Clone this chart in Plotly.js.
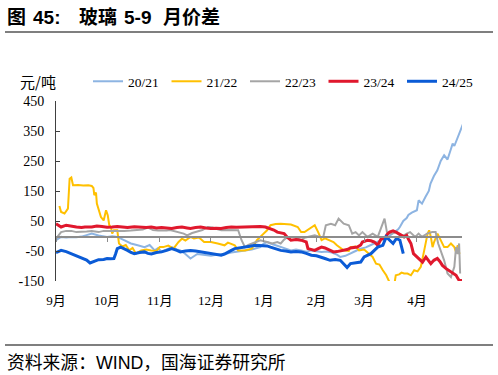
<!DOCTYPE html>
<html>
<head>
<meta charset="utf-8">
<script src="https://cdn.plot.ly/plotly-3.0.1.min.js"></script>
<style>html,body{margin:0;padding:0;background:#fff;}#chart{width:498px;height:375px;}</style>
</head>
<body>
<div id="chart"></div>
<script>
// Days counted from 1 Sep; values in 元/吨
var seriesNames = ['20/21', '21/22', '22/23', '23/24', '24/25'];
var monthTickDays = [0, 30, 61, 91, 122, 153, 181, 212];
var monthTickText = ['9月', '10月', '11月', '12月', '1月', '2月', '3月', '4月'];
var yTickVals = [-150, -50, 50, 150, 250, 350, 450];
var yTickText = ['-150', '-50', '50', '150', '250', '350', '450'];

var days2021 = [0,3,6,9,12,15,18,21,25,28,30,33,36,40,44,48,52,55,58,60,62,65,68,71,73,76,79,83,87,91,95,99,103,107,111,115,118,120,122,124,126,129,132,135,138,141,144,147,150,153,156,159,162,165,167,170,173,176,179,182,185,188,191,193,195,197,199,201,202,204,206,207,209,210,212,213,215,217,219,220,222,224,226,228,230,232,233,234,236,237,239];
var vals2021 = [-14,-3,-5,-3,-4,-2,3,8,2,-2,-3,-1,-3,-14,-25,-31,-37,-30,-48,-40,-53,-45,-37,-45,-48,-60,-75,-60,-64,-66,-62,-60,-55,-52,-48,-45,-40,-37,-25,-20,-25,-30,-37,-42,-48,-45,-48,-52,-48,-50,-53,-52,-55,-62,-70,-66,-59,-50,-42,-38,-30,-22,-14,-8,-3,5,13,22,30,50,60,70,78,80,86,119,108,130,150,175,200,219,250,269,255,290,308,300,330,345,372];

var days2122 = [2,3,5,7,8,9,10,13,16,19,21,22,22.5,23.5,24,25,26.4,28,29.4,30.4,31.3,32.3,33,34,36,37,39,41,43,45,47,50,53,56,59,61,63,66,69,72,74,76,79,81,84,87,91,95,99,101,105,107,111,115,118,120,124,126,129,132,135,138,142,144,146,149,152,154,156,158,161,163,165,167,169,172,173,176,178,181,184,186,188,190,192,194,196,197,198.5,199.6,201.6,203,204.5,206.5,208.5,210.4,212.4,214.3,216.3,218.3,219.2,220.2,221.2,222.1,224.1,226.1,228,230,232,234,235,236,237];
var vals2122 = [100,80,75,91,191,195,169,170,168,169,167,160,136,145,108,90,63,52,86,69,36,30,8,19,19,-25,-35,-30,-48,-40,-59,-48,-45,-48,-50,-37,-37,-32,-42,-20,-9,-15,-3,-8,-5,-20,-20,-25,-31,-22,-31,-48,-48,-42,-14,-3,19,36,40,41,40,38,30,13,13,25,36,13,-14,-8,-14,-20,-31,-40,-48,-50,-37,-35,-48,-45,-59,-70,-92,-95,-114,-131,-155,-180,-170,-131,-128,-122,-125,-125,-131,-114,-118,-103,-48,8,19,-3,-37,-20,8,-14,-37,-37,-25,-37,-53,-31,-60];

var days2223 = [0,2,3,6,9,12,15,18,21,25,28,32,36,40,44,48,51,54,57,60,62,65,67,70,73,75,77,80,83,86,89,92,95,97,100,103,107,109,111,113,115,118,120,124,127,130,132,134,136,140,144,146,148,152,155,157,158.5,161.5,164,166,169,172,174,176,178,180,183,186,189,191,193,194.4,197,200,203,206,208,211,213,215,218,221,223,224.5,226,228,230,232,234,235,236,236.8,237.4];
var vals2223 = [-9,5,13,17,17,13,13,15,17,13,17,17,15,17,18,20,22,28,20,18,17,18,20,16,13,8,2,10,15,20,30,28,22,19,20,20,19,-14,-37,-30,-25,-20,-14,-20,-25,-20,-25,-12,-3,-3,-14,-6,-3,2,-3,-3,36,41,36,58,41,36,8,13,2,13,-3,8,-3,25,58,13,8,13,-3,8,13,-3,8,-3,8,13,13,-25,-48,-81,-125,-137,-103,-37,-60,-25,-125];

var days2324 = [0,3,6,9,12,15,17,21,24,27,30,33,36,39,42,46,50,53,56,59,62,65,68,71,74,77,79,82,85,88,91,94,97,100,103,106,109,112,115,118,120,123,126,128,130,132,134,136,138,141,144,146,147,148,150,152,154,156,158,160,163,165,167,169,171,173,175,177,179,180,182,183,185,187,189,191,193,194.5,196,198,200,201.5,203,204.5,206,207,208.5,210,212,214,215.3,217.3,219,220.2,222,224,225.5,227,229,230.5,232,233.5,235,236.8,238.8];
var vals2324 = [41,30,36,32,30,28,30,30,33,32,29,30,32,30,28,31,30,28,30,27,28,26,25,28,30,27,25,28,30,27,25,26,25,28,30,29,30,31,30,31,32,30,25,20,13,10,8,-5,-14,-12,-14,-18,-20,-42,-46,-48,-42,-37,-40,-45,-53,-52,-50,-48,-45,-40,-38,-37,-30,-20,-16,-14,-16,-20,-31,-9,-9,5,13,17,12,8,2,-3,2,-10,-25,-59,-70,-80,-87,-70,-85,-92,-81,-75,-85,-98,-108,-114,-118,-125,-131,-148,-148];

var days2425 = [0,3,6,9,12,15,18,20,22,25,28,30,32,34,35,36,38,40,42,44,46,49,52,54,56,59,62,65,68,71,73,76,79,82,85,88,91,94,97,99,101,103,105,108,111,114,117,119,121,124,126,129,132,135,138,141,144,147,150,153,156,158,161,164,167,169,171,173,175,177,179,181,183,185,187,189,191,192,194,196,198,200,202,204];
var vals2425 = [-55,-48,-52,-59,-65,-72,-80,-90,-85,-79,-78,-75,-76,-75,-60,-42,-37,-42,-48,-55,-59,-55,-53,-58,-60,-55,-53,-48,-42,-48,-53,-50,-48,-50,-53,-56,-59,-62,-64,-60,-55,-48,-42,-40,-37,-34,-31,-32,-31,-33,-37,-42,-48,-50,-53,-52,-53,-58,-64,-66,-70,-75,-81,-78,-81,-92,-105,-92,-90,-87,-87,-70,-65,-59,-48,-37,-33,-31,-3,-14,-25,-8,-14,-59];

var allDays = [days2021, days2122, days2223, days2324, days2425];
var allVals = [vals2021, vals2122, vals2223, vals2324, vals2425];
var colors = ['#8DB4E2', '#FFC000', '#A5A5A5', '#E0182D', '#0B5BD6'];
var widths = [2, 2, 2, 3, 3];

var traces = seriesNames.map(function (n, i) {
  return {
    type: 'scatter', mode: 'lines', name: n,
    x: allDays[i], y: allVals[i],
    line: {color: colors[i], width: widths[i]},
    hoverinfo: 'skip'
  };
});

// pixel -> paper helpers (plot area spans x 56..462, y 101..281)
var L = 56, R = 36, T = 101, B = 94, W = 498, H = 375;
var PW = W - L - R, PH = H - T - B;
function px(x) { return (x - L) / PW; }
function py(y) { return (H - B - y) / PH; }

var serif = "'Liberation Serif', 'Times New Roman', 'Noto Sans CJK SC', serif";
var sans = "'Liberation Sans', Arial, 'Noto Sans CJK SC', sans-serif";

function titlePiece(text, x) {
  return {xref: 'paper', yref: 'paper', x: px(x), y: py(17), xanchor: 'left', yanchor: 'middle', showarrow: false,
          text: '<b>' + text + '</b>', font: {family: sans, size: 19, color: '#000'}};
}

var layout = {
  width: W, height: H,
  margin: {l: L, r: R, t: T, b: B, pad: 0, autoexpand: false},
  paper_bgcolor: '#ffffff', plot_bgcolor: '#ffffff',
  showlegend: true,
  xaxis: {
    range: [0, 238.5], anchor: 'free', position: 0.25,
    tickmode: 'array', tickvals: monthTickDays, ticktext: monthTickText,
    showline: true, linecolor: '#8c8c8c', linewidth: 1.5,
    ticks: 'outside', ticklen: 4, tickcolor: '#8c8c8c', tickwidth: 1,
    ticklabelstandoff: 48,
    tickfont: {family: serif, size: 13, color: '#000'},
    showgrid: false, zeroline: false, fixedrange: true, automargin: false
  },
  yaxis: {
    range: [-150, 450],
    tickmode: 'array', tickvals: yTickVals, ticktext: yTickText,
    showline: true, linecolor: '#404040', linewidth: 1,
    ticks: 'inside', ticklen: 4, tickcolor: '#404040',
    ticklabelstandoff: 8,
    tickfont: {family: serif, size: 14, color: '#000'},
    showgrid: false, zeroline: false, fixedrange: true, automargin: false
  },
  legend: {
    orientation: 'h', xref: 'container', yref: 'container',
    x: 88 / W, y: 1 - 66 / H, xanchor: 'left', yanchor: 'top',
    font: {family: serif, size: 13.5, color: '#000'},
    entrywidthmode: 'pixels', entrywidth: 33.5,
    bgcolor: 'rgba(0,0,0,0)', borderwidth: 0, itemwidth: 30
  },
  shapes: [
    {type: 'line', xref: 'paper', yref: 'paper', x0: px(5), x1: px(493), y0: py(32), y1: py(32), line: {color: '#7f7f7f', width: 2}},
    {type: 'line', xref: 'paper', yref: 'paper', x0: px(5), x1: px(493), y0: py(345), y1: py(345), line: {color: '#7f7f7f', width: 2}}
  ],
  annotations: [
    titlePiece('图', 5),
    titlePiece('45:', 31),
    titlePiece('玻璃', 77),
    titlePiece('5-9', 122),
    titlePiece('月价差', 161),
    {xref: 'paper', yref: 'paper', x: px(38), y: py(81), xanchor: 'center', yanchor: 'middle', showarrow: false,
     text: '元/吨', font: {family: "'Noto Sans CJK SC', sans-serif", size: 15, color: '#000'}},
    {xref: 'paper', yref: 'paper', x: px(5), y: py(363), xanchor: 'left', yanchor: 'middle', showarrow: false,
     text: '资料来源：WIND，国海证券研究所', font: {family: sans, size: 17.8, color: '#000'}}
  ]
};

Plotly.newPlot('chart', traces, layout, {displayModeBar: false, staticPlot: true});
</script>
</body>
</html>
